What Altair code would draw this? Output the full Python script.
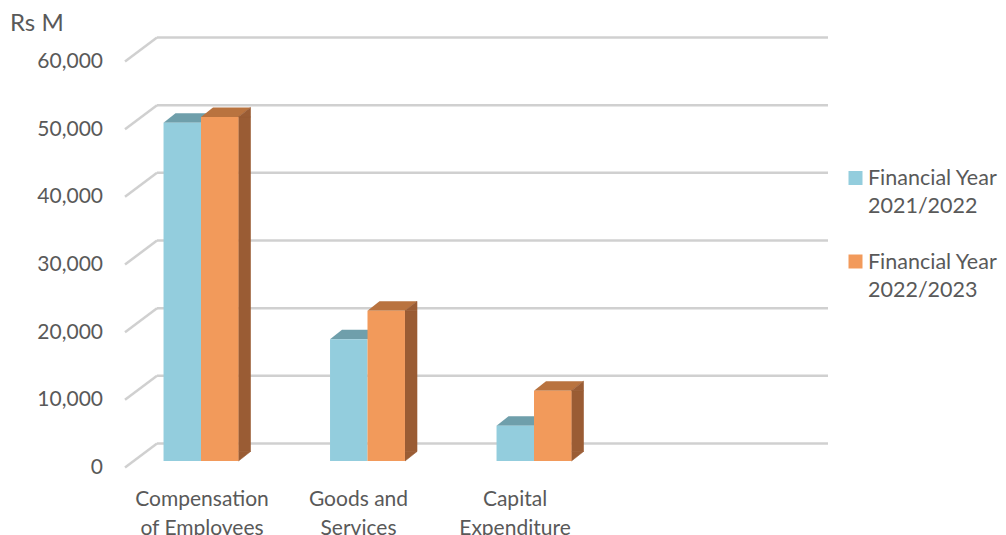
import altair as alt
import pandas as pd

# ---------------- data ----------------
categories = ["Compensation of Employees", "Goods and Services", "Capital Expenditure"]
category_labels = ["Compensation\nof Employees", "Goods and\nServices", "Capital\nExpenditure"]
series = ["Financial Year 2021/2022", "Financial Year 2022/2023"]
values_2021_22 = [50000, 18000, 5200]
values_2022_23 = [50850, 22200, 10400]
y_ticks = [0, 10000, 20000, 30000, 40000, 50000, 60000]
unit_label = "Rs M"

# ---------------- style ----------------
FONT = "Lato"
TEXT_COLOR = "#595959"
GRID_COLOR = "#D0D0D0"
front_colors = ["#93CDDD", "#F29A5B"]
top_colors = ["#6F9FAB", "#B9733F"]
side_color = "#9A5C34"

PLOT_W, PLOT_H = 866, 406
# unit of custom symbol paths = sqrt(size)/2 = 25 px
SYM_SIZE = 2500
TOP_PATH = "M -0.75 0 L 0.75 0 L 1.23 -0.38 L -0.27 -0.38 Z"
SIDE_TOP_PATH = "M 1.5 0 L 1.98 -0.38 L 1.98 0 Z"
SIDE_BOTTOM_PATH = "M 1.5 -0.38 L 1.5 0 L 1.98 -0.38 Z"

rows = []
for ci, c in enumerate(categories):
    for s, vals in zip(series, [values_2021_22, values_2022_23]):
        rows.append({"category": c, "series": s, "value": vals[ci], "zero": 0})
bars_df = pd.DataFrame(rows)
ticks_df = pd.DataFrame({"tick": y_ticks})
labels_df = pd.DataFrame({"category": categories, "label": category_labels})
legend_df = pd.DataFrame({
    "series": series,
    "legend_label": [s.rsplit(" ", 1)[0] + "\n" + s.rsplit(" ", 1)[1] for s in series],
})
unit_df = pd.DataFrame({"t": [unit_label]})


def yscale(field):
    return alt.Y(field, scale=alt.Scale(domain=[0, 60000], nice=False, zero=True), axis=None)


x_bar = alt.X(
    "category:N",
    sort=categories,
    scale=alt.Scale(type="band", domain=categories, range=[-7.25, 492.25],
                    paddingInner=0.55, paddingOuter=0.275),
    axis=None,
)
x_off = alt.XOffset("series:N", sort=series,
                    scale=alt.Scale(domain=series, paddingInner=0, paddingOuter=0))

# grid: back wall lines + left-wall diagonals
grid_back = alt.Chart(ticks_df).mark_rule(color=GRID_COLOR, strokeWidth=2.5, yOffset=-17.5).encode(
    x=alt.value(32), x2=alt.value(703), y=yscale("tick:Q")
)
grid_diag = alt.Chart(ticks_df).mark_rule(
    color=GRID_COLOR, strokeWidth=2.5, yOffset=6.5, y2Offset=-17.5
).encode(
    x=alt.value(0), x2=alt.value(32), y=yscale("tick:Q"), y2=alt.Y2("tick:Q")
)

y_labels = alt.Chart(ticks_df).mark_text(
    align="right", baseline="middle", font=FONT, fontSize=21, color=TEXT_COLOR, yOffset=7
).encode(
    x=alt.value(-22), y=yscale("tick:Q"), text=alt.Text("tick:Q", format=",")
)

unit_text = alt.Chart(unit_df).mark_text(
    align="left", baseline="middle", font=FONT, fontSize=24, color=TEXT_COLOR
).encode(x=alt.value(-115), y=alt.value(-31), text="t:N")

# top faces of the bars
tops = alt.Chart(bars_df).mark_point(
    shape=TOP_PATH, size=SYM_SIZE, filled=True, opacity=1, strokeWidth=0
).encode(
    x=x_bar, xOffset=x_off, y=yscale("value:Q"),
    color=alt.Color("series:N", scale=alt.Scale(domain=series, range=top_colors), legend=None),
)

last = bars_df[bars_df["series"] == series[-1]]
side_rect = alt.Chart(last).mark_bar(
    width=12, xOffset=43.5, y2Offset=-9.5, color=side_color,
    stroke=side_color, strokeWidth=0.6
).encode(x=x_bar, y=yscale("value:Q"), y2=alt.Y2("zero:Q"))
side_top = alt.Chart(last).mark_point(
    shape=SIDE_TOP_PATH, size=SYM_SIZE, filled=True, opacity=1, color=side_color,
    stroke=side_color, strokeWidth=0.6
).encode(x=x_bar, y=yscale("value:Q"))
side_bottom = alt.Chart(last).mark_point(
    shape=SIDE_BOTTOM_PATH, size=SYM_SIZE, filled=True, opacity=1, color=side_color,
    stroke=side_color, strokeWidth=0.6
).encode(x=x_bar, y=yscale("zero:Q"))

fronts = alt.Chart(bars_df).mark_bar().encode(
    x=x_bar, xOffset=x_off, y=yscale("value:Q"), y2=alt.Y2("zero:Q"),
    color=alt.Color("series:N", scale=alt.Scale(domain=series, range=front_colors), legend=None),
)

x_labels = alt.Chart(labels_df).mark_text(
    align="center", baseline="top", lineBreak="\n", lineHeight=29,
    font=FONT, fontSize=21, color=TEXT_COLOR
).encode(
    x=alt.X("category:N", sort=categories,
            scale=alt.Scale(type="point", domain=categories, range=[77, 390], padding=0),
            axis=None),
    y=alt.value(434),
    text="label:N",
)

legend_y = alt.Y("series:N", sort=series,
                 scale=alt.Scale(type="point", domain=series, range=[123, 206.5], padding=0),
                 axis=None)
legend_sym = alt.Chart(legend_df).mark_point(
    shape="square", size=196, filled=True, opacity=1, strokeWidth=0
).encode(
    x=alt.value(730.5), y=legend_y,
    color=alt.Color("series:N", scale=alt.Scale(domain=series, range=front_colors), legend=None),
)
legend_txt = alt.Chart(legend_df).mark_text(
    align="left", baseline="top", lineBreak="\n", lineHeight=28, yOffset=-10,
    font=FONT, fontSize=21.5, color=TEXT_COLOR
).encode(x=alt.value(743), y=legend_y, text="legend_label:N")

chart = alt.layer(
    grid_back, grid_diag, y_labels, unit_text,
    tops, side_rect, side_top, side_bottom, fronts,
    x_labels, legend_sym, legend_txt,
).resolve_scale(
    x="independent", y="independent", color="independent"
).properties(
    width=PLOT_W, height=PLOT_H,
    autosize=alt.AutoSizeParams(type="none"),
    padding={"left": 117, "top": 47, "right": 7, "bottom": 74},
    background="white",
).configure_view(stroke=None)

chart.save("out.html", embed_options={"renderer": "svg", "actions": False})
